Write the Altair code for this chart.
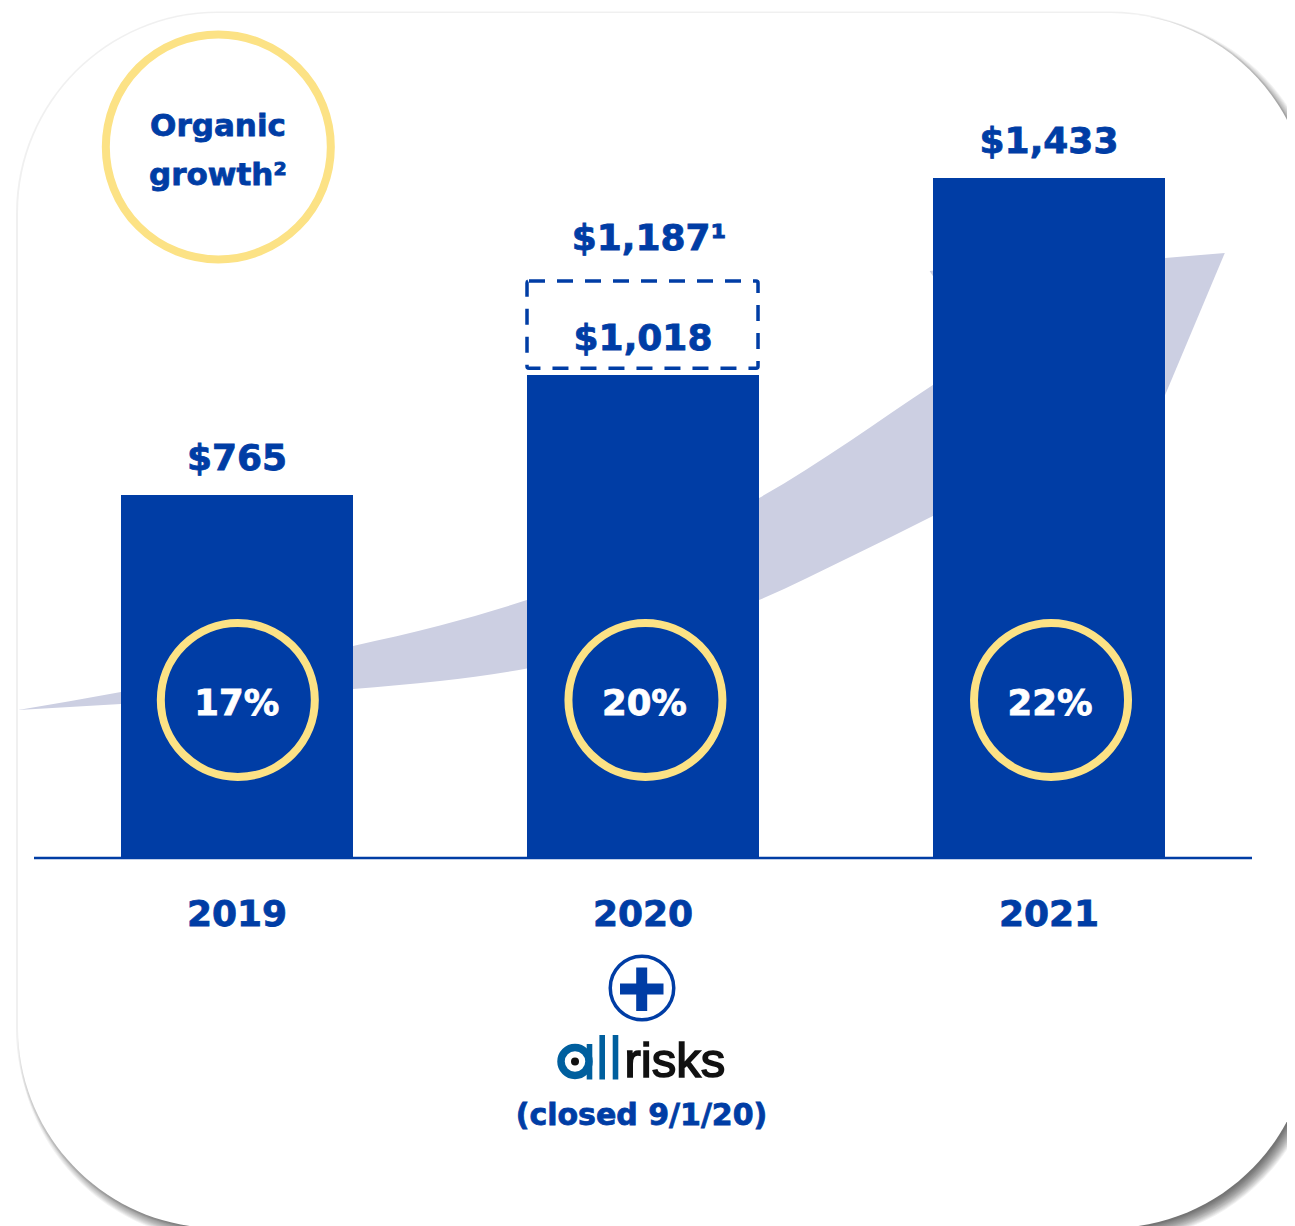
import altair as alt
import pandas as pd

# --- values ---
years = [2019, 2020, 2021]
revenue = [765, 1018, 1433]
revenue_labels = ["$765", "$1,018", "$1,433"]
proforma_low = [1032]
proforma_high = [1216]
proforma_value = [1187]
proforma_label = ["$1,187¹"]
organic_x = [2019.002, 2020.006, 2021.005]
organic_labels = ["17%", "20%", "22%"]
organic_level = [333]

ribbon_x = [2018.461, 2018.714, 2019.286, 2019.5, 2019.714, 2020.0, 2020.286, 2020.510, 2020.714, 2021.286]
ribbon_top = [311.9, 349.8, 446.8, 490.0, 543.7, 640.0, 758.6, 879.0, 996.8, 1264.4]
ribbon_bottom = [311.9, 324.5, 356.1, 373.0, 399.3, 457.0, 543.7, 634.3, 720.7, 975.7]
head_x = [2021.286, 2021.433]
head_top = [1264.4, 1275.0]
head_bottom = [975.7, 1275.0]
barb_x = [2020.706, 2020.716]
barb_top = [1237, 1238]
barb_bottom = [1237, 1224]

BLUE = "#003DA5"
GOLD = "#FCE285"
RIBBON = "#CCCFE2"
FONT = "DejaVu Sans"

X = alt.Scale(domain=[2018.43596, 2021.58621], nice=False, zero=False, padding=0)
Y = alt.Scale(domain=[-775.5, 1791.2], nice=False, zero=False, padding=0)


def xe(f="x"):
    return alt.X(f"{f}:Q", scale=X, axis=None)


def ye(f="y"):
    return alt.Y(f"{f}:Q", scale=Y, axis=None)


one = pd.DataFrame({"k": [0]})
layers = []

# panel shadow and panel
layers.append(
    alt.Chart(one).mark_rect(cornerRadius=202, color="#000000", opacity=0.06).encode(
        x=alt.value(8), x2=alt.value(1304), y=alt.value(3.5), y2=alt.value(1222))
)
for spread in range(6, -7, -1):
    layers.append(
        alt.Chart(one).mark_rect(cornerRadius=200 + spread, color="#000000", opacity=0.05).encode(
            x=alt.value(10 + 6 - spread), x2=alt.value(1302 + 6 + spread),
            y=alt.value(5 + 7 - spread), y2=alt.value(1220 + 7 + spread))
    )
layers.append(
    alt.Chart(one).mark_rect(cornerRadius=200, color="#FFFFFF").encode(
        x=alt.value(10), x2=alt.value(1302), y=alt.value(5), y2=alt.value(1220))
)

# growth ribbon
rib = pd.DataFrame({"x": ribbon_x, "y": ribbon_top, "y2": ribbon_bottom})
layers.append(alt.Chart(rib).mark_area(color=RIBBON, interpolate="monotone").encode(
    x=xe(), y=ye(), y2="y2:Q"))
head = pd.DataFrame({"x": head_x, "y": head_top, "y2": head_bottom})
layers.append(alt.Chart(head).mark_area(color=RIBBON).encode(x=xe(), y=ye(), y2="y2:Q"))
barb = pd.DataFrame({"x": barb_x, "y": barb_top, "y2": barb_bottom})
layers.append(alt.Chart(barb).mark_area(color=RIBBON).encode(x=xe(), y=ye(), y2="y2:Q"))

# bars
bars = pd.DataFrame({"x": years, "y": revenue, "label": revenue_labels,
                     "base": [0, 0, 0]})
layers.append(alt.Chart(bars).mark_bar(color=BLUE, size=232).encode(x=xe(), y=ye(), y2="base:Q"))

# baseline
axis_df = pd.DataFrame({"x": [2018.5], "x2": [2021.5], "y": [0]})
layers.append(alt.Chart(axis_df).mark_rule(color=BLUE, strokeWidth=2.5).encode(x=xe(), x2="x2:Q", y=ye()))

# dashed pro-forma box
box = pd.DataFrame({"x": [2020 - 0.2857], "x2": [2020 + 0.2833],
                    "y": proforma_low, "y2": proforma_high})
layers.append(alt.Chart(box).mark_rect(fill="transparent", stroke=BLUE, strokeWidth=3.5,
                                       strokeDash=[16, 12], cornerRadius=2).encode(
    x=xe(), x2="x2:Q", y=ye(), y2="y2:Q"))

HEAVY = dict(font=FONT, fontWeight="bold", baseline="middle", align="center", strokeWidth=0.8)

# value labels
layers.append(alt.Chart(bars).mark_text(fontSize=36, color=BLUE, stroke=BLUE, dy=-36, **HEAVY).encode(
    x=xe(), y=ye(), text="label:N"))
pf = pd.DataFrame({"x": [2020.015], "y": proforma_value, "label": proforma_label})
layers.append(alt.Chart(pf).mark_text(fontSize=36, color=BLUE, stroke=BLUE, dy=-56, **HEAVY).encode(
    x=xe(), y=ye(), text="label:N"))

# year labels
yrs = pd.DataFrame({"x": years, "y": [0, 0, 0], "label": [str(v) for v in years]})
layers.append(alt.Chart(yrs).mark_text(fontSize=36, color=BLUE, stroke=BLUE, dy=57, **HEAVY).encode(
    x=xe(), y=ye(), text="label:N"))

# organic-growth rings
org = pd.DataFrame({"x": organic_x, "y": organic_level * 3, "label": organic_labels})
layers.append(alt.Chart(org).mark_point(shape="circle", size=23716, stroke=GOLD, strokeWidth=8,
                                        fill=None, opacity=1).encode(x=xe(), y=ye()))
layers.append(alt.Chart(org).mark_text(fontSize=35.5, color="#FFFFFF", stroke="#FFFFFF", dy=4, dx=-1, **HEAVY).encode(
    x=xe(), y=ye(), text="label:N"))

# legend ring
leg = pd.DataFrame({"x": [2018.954], "y": [1498.3]})
layers.append(alt.Chart(leg).mark_point(shape="circle", size=50625, stroke=GOLD, strokeWidth=8,
                                        fill=None, opacity=1).encode(x=xe(), y=ye()))


def txt(s, px, py, size, color=BLUE, font=FONT, weight="bold", align="center", sw=0.8):
    return alt.Chart(one).mark_text(text=s, font=font, fontWeight=weight, fontSize=size, color=color,
                                    stroke=color, strokeWidth=sw,
                                    baseline="middle", align=align).encode(
        x=alt.value(px - 8), y=alt.value(py - 8))


layers.append(txt("Organic", 218, 126.5, 31))
layers.append(txt("growth²", 218, 175.5, 31))

# plus badge
layers.append(alt.Chart(one).mark_point(shape="circle", size=4032, stroke=BLUE, strokeWidth=3.5,
                                        fill=None, opacity=1).encode(
    x=alt.value(642 - 8), y=alt.value(988 - 8)))
layers.append(alt.Chart(one).mark_rule(color=BLUE, strokeWidth=11).encode(
    x=alt.value(620 - 8), x2=alt.value(663.5 - 8), y=alt.value(989 - 8)))
layers.append(alt.Chart(one).mark_rule(color=BLUE, strokeWidth=11).encode(
    x=alt.value(641.7 - 8), y=alt.value(967.5 - 8), y2=alt.value(1011 - 8)))

# allrisks wordmark
LOGO = "#005F9E"
layers.append(alt.Chart(one).mark_point(shape="circle", size=784, stroke=LOGO, strokeWidth=7.5,
                                        fill=None, opacity=1).encode(
    x=alt.value(575 - 8), y=alt.value(1061.5 - 8)))
layers.append(alt.Chart(one).mark_point(shape="circle", size=64, fill="#111111", stroke=None,
                                        filled=True, opacity=1).encode(
    x=alt.value(575 - 8), y=alt.value(1061.5 - 8)))
for lx, ly in [(589.5, 1044), (602.2, 1035), (615.5, 1035)]:
    layers.append(alt.Chart(one).mark_rule(color=LOGO, strokeWidth=5.6).encode(
        x=alt.value(lx - 8), y=alt.value(ly - 8), y2=alt.value(1079.5 - 8)))
layers.append(txt("risks", 624.5, 1062, 49, color="#111111", font="Liberation Sans",
                  weight="normal", align="left", sw=1.6))
layers.append(txt("(closed 9/1/20)", 641.5, 1116, 30))

chart = alt.layer(*layers).properties(
    width=1279, height=1218, padding=0,
    autosize=alt.AutoSizeParams(type="none"),
    background="#FFFFFF",
).configure_view(stroke=None)

chart.save("out.html", embed_options={"renderer": "svg", "actions": False})
